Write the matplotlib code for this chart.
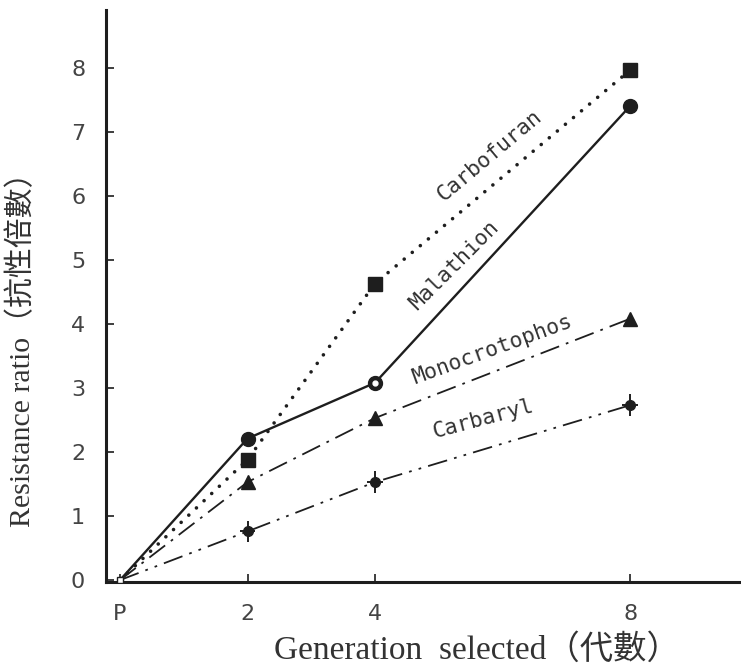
import matplotlib
matplotlib.use("Agg")
import matplotlib.pyplot as plt

# ---- data ----
generations = [0, 2, 4, 8]
gen_labels = ["P", "2", "4", "8"]
carbofuran = [0.0, 1.88, 4.63, 7.96]
malathion = [0.0, 2.21, 3.08, 7.40]
monocrotophos = [0.0, 1.53, 2.53, 4.08]
carbaryl = [0.0, 0.76, 1.53, 2.73]
carbaryl_err = [0.0, 0.17, 0.17, 0.17]
yticks = [0, 1, 2, 3, 4, 5, 6, 7, 8]

INK = "#1e1e1e"

fig = plt.figure(figsize=(7.41, 6.71), dpi=100)
ax = fig.add_axes([106 / 741, (671 - 582) / 671, (741 - 106) / 741, (582 - 10) / 671])

# Carbofuran - dotted with squares
ax.plot(generations[1:], carbofuran[1:], color=INK, lw=0, marker="s", ms=9.5, zorder=4)
ax.plot(generations, carbofuran, color=INK, lw=2.6, dashes=(0.01, 2.9),
        dash_capstyle="round", zorder=3)

# Malathion - solid with circles
ax.plot(generations, malathion, color=INK, lw=1.7, zorder=3)
ax.plot(generations[1:], malathion[1:], color=INK, lw=0, marker="o", ms=10, zorder=4)
ax.plot([generations[2]], [malathion[2]], color="white", lw=0, marker="o", ms=3.5, zorder=5)

# Monocrotophos - dash-dot with triangles
ax.plot(generations, monocrotophos, color=INK, lw=1.3, dashes=(11, 4, 1.5, 4), zorder=3)
ax.plot(generations[1:], monocrotophos[1:], color=INK, lw=0, marker="^", ms=10.5, zorder=4)

# Carbaryl - dash-dot-dot with small circles and error crosses
ax.plot(generations, carbaryl, color=INK, lw=1.3, dashes=(11, 4, 1.5, 4, 1.5, 4), zorder=3)
ax.errorbar(generations[1:], carbaryl[1:], yerr=carbaryl_err[1:], xerr=0.12,
            fmt="o", color=INK, ms=7, elinewidth=1.4, capsize=0, zorder=4)

# small open markers at origin
ax.plot([generations[0]], [carbofuran[0]], marker="s", ms=5, mfc="white", mec=INK, lw=0, zorder=5)

# curve labels
lab_kw = dict(family="DejaVu Sans Mono", fontsize=15.5, color="#333333",
              ha="center", va="center", rotation_mode="anchor")
ax.text(5.80, 6.62, "Carbofuran", rotation=40, **lab_kw)
ax.text(5.25, 4.92, "Malathion", rotation=45, **lab_kw)
ax.text(5.83, 3.60, "Monocrotophos", rotation=20, **lab_kw)
ax.text(5.69, 2.52, "Carbaryl", rotation=15, **lab_kw)

# axes styling
ax.set_xlim(-0.22, 9.74)
ax.set_ylim(-0.03, 8.9)
for s in ["top", "right"]:
    ax.spines[s].set_visible(False)
for s in ["left", "bottom"]:
    ax.spines[s].set_linewidth(2.2)
    ax.spines[s].set_color(INK)

ax.set_xticks(generations)
ax.set_xticklabels(gen_labels)
ax.set_yticks(yticks)
ax.set_yticklabels([str(v) for v in yticks])
ax.tick_params(axis="both", direction="in", length=6, width=1.2, colors=INK,
               labelcolor="#444444", labelsize=16)
ax.tick_params(axis="x", pad=16)
ax.tick_params(axis="y", pad=15)

label_font = ["Liberation Serif", "Noto Sans CJK TC"]
ax.set_xlabel("Generation  selected（代數）", family=label_font, fontsize=24, color="#333333")
ax.set_ylabel("Resistance ratio（抗性倍數）", family=label_font, fontsize=21.5, color="#333333")
ax.xaxis.set_label_coords((477 - 106) / 635, (582 - 650) / 572)
ax.yaxis.set_label_coords((22 - 106) / 635, (582 - 342) / 572)
ax.xaxis.label.set_va("center")
ax.yaxis.label.set_va("center")

fig.savefig("out.png", dpi=100)
